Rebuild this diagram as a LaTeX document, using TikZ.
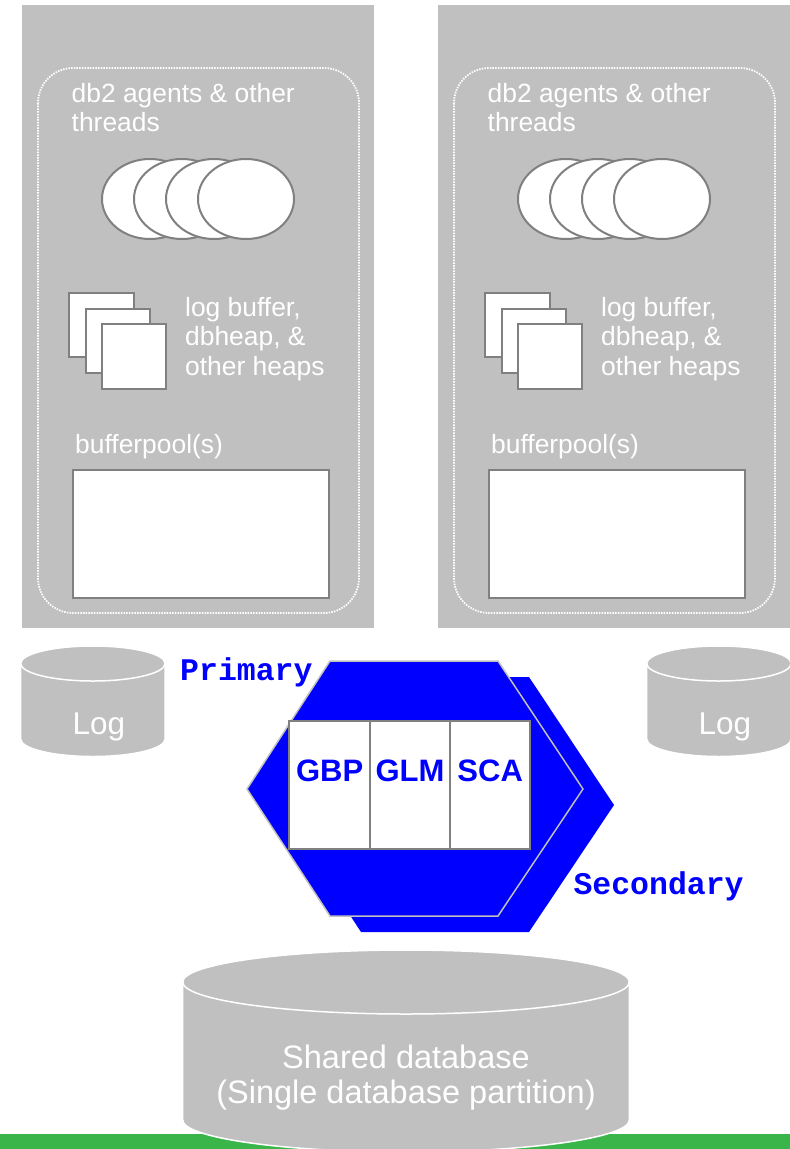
\documentclass[tikz,border=0pt]{standalone}
\usepackage{fontspec}
\setmainfont{Liberation Sans}
\newfontfamily\codefont{Liberation Mono}
\usetikzlibrary{shapes.geometric}

\definecolor{panelgrey}{RGB}{192,192,192}
\definecolor{edgegrey}{RGB}{128,128,128}
\definecolor{cfblue}{RGB}{0,0,255}
\definecolor{bargreen}{RGB}{57,181,74}

\tikzset{
  panel/.style={fill=panelgrey, draw=none},
  regionline/.style={draw=white, line width=1.8pt, dash pattern=on 1.5pt off 1.2pt, rounded corners=35pt},
  agent/.style={ellipse, draw=edgegrey, fill=white, line width=2pt,
    minimum width=96pt, minimum height=80pt, inner sep=0pt},
  heap/.style={rectangle, draw=edgegrey, fill=white, line width=2pt,
    minimum size=64.5pt, inner sep=0pt},
  poolbox/.style={rectangle, draw=edgegrey, fill=white, line width=2pt,
    minimum width=256.6pt, minimum height=128pt, inner sep=0pt},
  whitetext/.style={text=white, inner sep=0pt, anchor=base west,
    font=\fontsize{26.4}{29.5}\selectfont},
  disk/.style={fill=panelgrey, draw=white, line width=1.5pt},
  disktext/.style={text=white, inner sep=0pt, anchor=base,
    font=\fontsize{31.5}{35}\selectfont},
  cfshape/.style={fill=cfblue},
  cftext/.style={text=cfblue, inner sep=0pt, anchor=base west,
    font=\codefont\bfseries\fontsize{31.5}{35}\selectfont},
  cell/.style={rectangle, draw=edgegrey, fill=white, line width=2pt,
    minimum width=80.2pt, minimum height=128.3pt, inner sep=0pt},
  celltext/.style={text=cfblue, inner sep=0pt, anchor=base,
    font=\bfseries\fontsize{31}{35}\selectfont},
}

\begin{document}
\begin{tikzpicture}[x=1pt, y=-1pt]
\useasboundingbox (0,0) rectangle (790,1149);

% two member hosts, identical apart from their position
\foreach \p/\dx in {L/0, R/416} {
  \begin{scope}[shift={(\dx,0)}]
    \node[panel, minimum width=352pt, minimum height=623pt, inner sep=0pt, anchor=north west]
      (host\p) at (22,5) {};
    \draw[regionline] (38,68) rectangle (359,613);
    \node[whitetext] (agentslbl\p) at (71.5,102)
      {\begin{tabular}[t]{@{}l@{}}db2 agents \& other\\threads\end{tabular}};
    \foreach \i/\cx in {1/150, 2/182, 3/214, 4/246}
      \node[agent] (agent\p\i) at (\cx,199) {};
    \foreach \i/\cx/\cy in {1/101.7/325, 2/117.8/341, 3/133.8/356.7}
      \node[heap] (heap\p\i) at (\cx,\cy) {};
    \node[whitetext] (heaplbl\p) at (185,316)
      {\begin{tabular}[t]{@{}l@{}}log buffer,\\dbheap, \&\\other heaps\end{tabular}};
    \node[whitetext] (poollbl\p) at (75,453) {bufferpool(s)};
    \node[poolbox, anchor=north west] (pool\p) at (71.7,468.7) {};
  \end{scope}
}

% per-member log disks
\foreach \p/\x in {L/20.7, R/646.7} {
  \path[disk] (\x,663.5) -- (\x,739)
    arc[start angle=180, end angle=0, x radius=72.2, y radius=17.5]
    -- (\x+144.4,663.5)
    arc[start angle=0, end angle=-180, x radius=72.2, y radius=17.5] -- cycle;
  \draw[white, line width=1.5pt] (\x,663.5)
    arc[start angle=180, end angle=0, x radius=72.2, y radius=17.5];
  \coordinate (logc\p) at (\x+72.2+6,734);
  \node[disktext] (log\p) at (logc\p) {Log};
}

% cluster caching facility: secondary behind, primary in front
\path[cfshape] (361,677) -- (529,677) -- (614,805) -- (529,932) -- (361,932) -- (278,805) -- cycle;
\path[cfshape, draw=panelgrey, line width=1.5pt]
  (330,661) -- (498,661) -- (583,789) -- (498,916) -- (330,916) -- (247,789) -- cycle;

\node[cell] (gbp) at (329.5,784.8) {};
\node[cell] (glm) at (409.8,784.8) {};
\node[cell] (sca) at (490.1,784.8) {};
\node[celltext] at (329.7,781.5) {GBP};
\node[celltext] at (410,781.5) {GLM};
\node[celltext] at (490.2,781.5) {SCA};

\node[cftext] (primary) at (180,680) {Primary};
\node[cftext] (secondary) at (573.3,894) {Secondary};

% base bar and shared database disk
\fill[bargreen] (0,1134) rectangle (790,1149);
\path[disk] (182.7,982) -- (182.7,1120)
  arc[start angle=180, end angle=0, x radius=223.3, y radius=32]
  -- (629.3,982)
  arc[start angle=0, end angle=-180, x radius=223.3, y radius=32] -- cycle;
\draw[white, line width=1.5pt] (182.7,982)
  arc[start angle=180, end angle=0, x radius=223.3, y radius=32];
\node[disktext, font=\fontsize{32.5}{35}\selectfont] (shareddb) at (406,1068)
  {\begin{tabular}[t]{@{}c@{}}Shared database\\(Single database partition)\end{tabular}};

\end{tikzpicture}
\end{document}
